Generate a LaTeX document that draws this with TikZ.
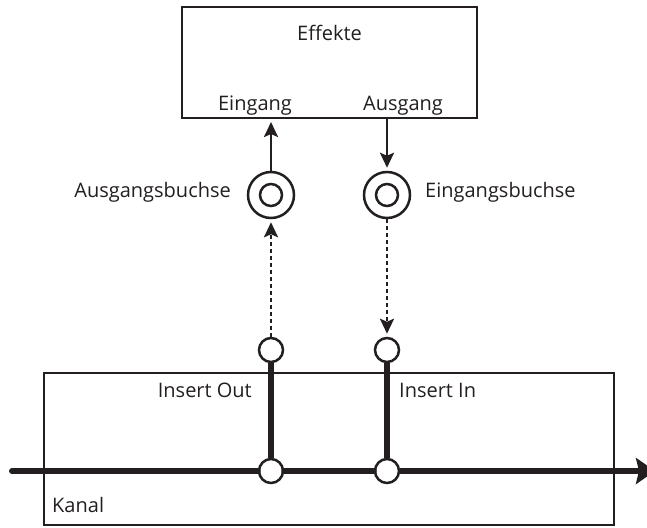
\documentclass[tikz,border=0pt]{standalone}
\usepackage{fontspec}
\setmainfont{Open Sans}
\usetikzlibrary{arrows.meta}
\definecolor{ink}{HTML}{231F20}
\begin{document}
\begin{tikzpicture}[x=1pt,y=-1pt,
  lbl/.style={inner sep=0pt,text=ink,font=\fontsize{20}{23}\selectfont},
  box/.style={draw=ink,line width=2pt,rectangle,inner sep=0pt},
  jackouter/.style={draw=ink,circle,line width=2.5pt,minimum size=46pt,inner sep=0pt},
  jackinner/.style={draw=ink,circle,line width=2.5pt,minimum size=22pt,inner sep=0pt},
  plug/.style={draw=ink,circle,fill=white,line width=2.5pt,minimum width=22pt,minimum height=24pt,inner sep=0pt},
  sig/.style={draw=ink,line width=2.5pt,-{Stealth[length=15pt,width=14pt,inset=3pt]}},
  dsig/.style={sig,dash pattern=on 4pt off 3pt},
  bus/.style={draw=ink,line width=6pt,line cap=round}]
\useasboundingbox (0,0) rectangle (647,527);
% boxes
\node[box,minimum width=295pt,minimum height=111pt] (fx) at (329.5,62.5) {};
\node[box,minimum width=570pt,minimum height=152pt] (kanal) at (329,449) {};
% labels
\node[lbl,anchor=base] (tfx) at (329.5,41) {Effekte};
\node[lbl,anchor=base] (tein) at (255,110) {Eingang};
\node[lbl,anchor=base] (taus) at (403,110) {Ausgang};
\node[lbl,anchor=base east] (tab) at (231,197) {Ausgangsbuchse};
\node[lbl,anchor=base west] (teb) at (425,197) {Eingangsbuchse};
\node[lbl,anchor=base east] (tio) at (252,397) {Insert Out};
\node[lbl,anchor=base west] (tii) at (399,397) {Insert In};
\node[lbl,anchor=base west] (tk) at (52,512) {Kanal};
% jacks
\node[jackouter] (jl) at (271,195) {};
\node[jackinner] (jli) at (271,195) {};
\node[jackouter] (jr) at (387,195) {};
\node[jackinner] (jri) at (387,195) {};
% anchor points on effect box
\coordinate (fxin) at (271,118);
\coordinate (fxout) at (387,118);
% plugs
\node[plug] (pl) at (271,350) {};
\node[plug] (pr) at (387,350) {};
\node[plug] (bl) at (271,471) {};
\node[plug] (br) at (387,471) {};
% bus
\coordinate (bs) at (12,471);
\coordinate (be) at (655,471);
\draw[bus] (bs) -- (bl);
\draw[bus] (bl) -- (br);
\draw[bus,line cap=butt,-{Stealth[length=19pt,width=26pt,inset=3pt]}] (br) -- (be);
\draw[bus,line cap=butt] (pl) -- (bl);
\draw[bus,line cap=butt] (pr) -- (br);
% signal arrows
\draw[sig,shorten >=4pt] (jl) -- (fxin);
\draw[sig,shorten >=3pt] (fxout) -- (jr);
\draw[dsig,shorten >=3pt] (pl) -- (jl);
\draw[dsig,shorten >=3pt] (jr) -- (pr);
\end{tikzpicture}
\end{document}
